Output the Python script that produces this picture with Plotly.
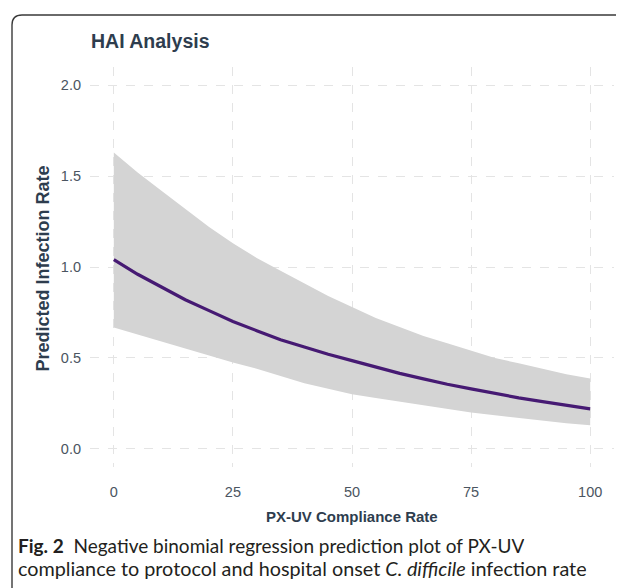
import plotly.graph_objects as go

# Data
compliance = [0, 5, 10, 15, 20, 25, 30, 35, 40, 45, 50, 55, 60, 65, 70, 75, 80, 85, 90, 95, 100]
predicted = [1.04, 0.96, 0.89, 0.82, 0.76, 0.70, 0.65, 0.60, 0.56, 0.52, 0.485, 0.45, 0.415, 0.385,
             0.355, 0.33, 0.305, 0.28, 0.26, 0.24, 0.22]
upper_ci = [1.63, 1.52, 1.42, 1.32, 1.22, 1.13, 1.05, 0.98, 0.91, 0.84, 0.78, 0.72, 0.67, 0.62,
            0.58, 0.54, 0.50, 0.47, 0.44, 0.41, 0.387]
lower_ci = [0.667, 0.628, 0.59, 0.55, 0.51, 0.475, 0.44, 0.40, 0.36, 0.33, 0.30, 0.28, 0.26, 0.24,
            0.22, 0.20, 0.185, 0.17, 0.155, 0.14, 0.13]
x_ticks = [0, 25, 50, 75, 100]
y_ticks = [0.0, 0.5, 1.0, 1.5, 2.0]
y_tick_labels = ["0.0", "0.5", "1.0", "1.5", "2.0"]

# the page body adds an 8px margin, so the figure is 8px smaller each way
OFF = 8
W, H = 624 - OFF, 588 - OFF
L, R, T, B = 82, 10, 59, 121
PW, PH = W - L - R, H - T - B


def px(xp):  # reference-image pixel -> paper fraction
    return (xp - OFF - L) / PW


def py(yp):
    return (H - B - (yp - OFF)) / PH


fig = go.Figure()
fig.add_trace(go.Scatter(x=compliance, y=lower_ci, mode="lines", line=dict(width=0),
                         hoverinfo="skip", showlegend=False))
fig.add_trace(go.Scatter(x=compliance, y=upper_ci, mode="lines", line=dict(width=0),
                         fill="tonexty", fillcolor="#d4d4d4", hoverinfo="skip", showlegend=False))
fig.add_trace(go.Scatter(x=compliance, y=predicted, mode="lines",
                         line=dict(color="#461a73", width=3.2), showlegend=False))

regular = "Liberation Sans, Arial, sans-serif"
dark = "#2e3d4e"
grid = dict(showgrid=True, gridcolor="#e4e4e4", griddash="dash", gridwidth=1,
            zeroline=False, showline=False, ticks="")

fig.update_xaxes(range=[-5, 105], tickvals=x_ticks, ticklabelstandoff=14,
                 tickfont=dict(family=regular, size=14.5, color="#4b5561"), **grid)
fig.update_yaxes(range=[-0.1, 2.1], tickvals=y_ticks, ticktext=y_tick_labels, ticklabelstandoff=8,
                 tickfont=dict(family=regular, size=14.5, color="#4b5561"), **grid)

annotations = [
    dict(text="<b>HAI Analysis</b>", x=px(89), y=py(41), xanchor="left", yanchor="middle",
         font=dict(family=regular, size=19.5, color=dark)),
    dict(text="<b>Predicted Infection Rate</b>", x=px(42.5), y=py(269), textangle=-90,
         xanchor="center", yanchor="middle",
         font=dict(family=regular, size=18, color=dark)),
    dict(text="<b>PX-UV Compliance Rate</b>", x=px(352), y=py(516), xanchor="center", yanchor="middle",
         font=dict(family=regular, size=15, color=dark)),
    dict(text="<b>Fig. 2</b>  Negative binomial regression prediction plot of PX-UV",
         x=px(16), y=py(545), xanchor="left", yanchor="middle", height=21,
         font=dict(family="Lato, sans-serif", size=19, color="#231f20")),
    dict(text="compliance to protocol and hospital onset <i>C. difficile</i> infection rate",
         x=px(16), y=py(567), xanchor="left", yanchor="middle", height=23,
         font=dict(family="Lato, sans-serif", size=19.8, color="#231f20")),
]
for a in annotations:
    a.update(xref="paper", yref="paper", showarrow=False)

# rounded frame (top-left corner visible; right and bottom edges run off the image)
x0, y0, x1, y1, r = 12, 15, 640, 600, 10
path = (f"M {px(x0)},{py(y1)} L {px(x0)},{py(y0 + r)} "
        f"Q {px(x0)},{py(y0)} {px(x0 + r)},{py(y0)} L {px(x1)},{py(y0)}")
fig.add_shape(type="path", path=path, xref="paper", yref="paper",
              line=dict(color="#3a3a3a", width=1.4), layer="above")

fig.update_layout(width=W, height=H, margin=dict(l=L, r=R, t=T, b=B),
                  paper_bgcolor="white", plot_bgcolor="white",
                  annotations=annotations, showlegend=False)

fig.write_html("out.html")
